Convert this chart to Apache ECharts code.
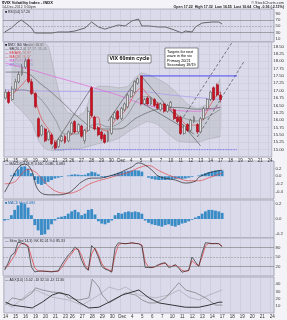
<!DOCTYPE html>
<html><head><meta charset="utf-8">
<script src="https://cdn.jsdelivr.net/npm/echarts@6/dist/echarts.min.js"></script>
<style>html,body{margin:0;padding:0;background:#f4f4f8}#c{width:287px;height:320px}</style>
</head><body><div id="c"></div>
<script>
// ---- categories (days, slots per day) ----
const dayLabels = ['14','15','16','19','20','21','23','26','27','28','29','30','Dec','4','5','6','7','10','11','12','13','14','17','18','19','20','21','24'];
const daySlots  = [3,3,3,3,3,3,2,3,3,3,3,3,3,3,3,3,3,3,3,3,3,3,3,3,3,3,3,1];

// ---- price candles [open, close, low, high] ----
const candles = [
[16.75,16.95,16.7,17.05],[16.95,16.6,16.55,17.0],[16.7,17.05,16.65,17.15],[17.05,17.3,17.0,17.4],
[17.3,17.55,17.25,17.65],[17.55,17.8,17.5,17.9],[17.8,18.0,17.75,18.1],[18.05,17.3,17.25,18.1],
[17.3,16.9,16.85,17.4],[16.9,16.45,16.4,16.95],[16.05,15.45,15.4,16.1],[15.5,15.8,15.45,15.85],
[15.7,15.3,15.25,15.75],[15.35,15.6,15.3,15.65],[15.5,15.2,15.15,15.55],[15.25,15.05,15.0,15.3],
[15.1,15.35,15.05,15.4],[15.3,15.45,15.25,15.5],[15.45,15.25,15.2,15.5],[15.3,15.6,15.25,15.65],
[15.55,15.9,15.5,15.95],[15.95,15.6,15.55,16.0],[15.6,15.85,15.55,15.9],[15.8,15.45,15.4,15.85],
[15.3,15.65,15.2,15.7],[15.65,16.3,15.6,16.45],[17.1,16.15,16.1,17.15],[16.1,15.7,15.65,16.15],
[15.75,15.5,15.45,15.8],[15.6,15.37,15.3,15.65],[15.5,15.25,15.2,15.55],[15.3,15.6,15.25,15.65],
[15.55,16.1,15.5,16.15],[16.05,16.25,16.0,16.3],[16.3,16.05,16.0,16.35],[16.05,16.4,16.0,16.45],
[16.35,16.55,16.3,16.6],[16.45,16.85,16.4,16.9],[16.8,17.0,16.75,17.05],[16.95,17.3,16.9,17.35],
[17.25,17.4,17.2,17.45],[17.5,16.55,16.5,17.52],[16.55,16.7,16.5,16.75],[16.75,16.55,16.5,16.8],
[16.55,16.75,16.5,16.8],[16.7,16.5,16.45,16.75],[16.55,16.4,16.35,16.6],[16.35,16.55,16.3,16.6],
[16.55,16.3,16.25,16.6],[16.3,16.5,16.25,16.55],[16.45,16.6,16.4,16.65],[16.35,16.05,16.0,16.4],
[16.1,15.95,15.9,16.15],[16.1,15.55,15.5,16.15],[15.55,15.8,15.5,15.85],[15.85,15.65,15.6,15.9],
[15.65,16.0,15.6,16.05],[15.95,16.1,15.9,16.15],[15.85,15.6,15.53,15.9],[15.6,16.05,15.55,16.1],
[16.05,16.4,16.0,16.45],[16.4,16.7,16.35,16.75],[16.7,16.95,16.65,17.0],[17.1,16.7,16.65,17.15],
[17.2,16.85,16.8,17.25],[16.85,16.7,16.6,16.95]
];

// ---- overlays on price panel ([slot, value]) ----
const bbUpper = [[2,17.9],[5,18.3],[8,18.7],[11,18.7],[13,18.47],[15,17.5],[17,16.6],[19,16.25],[22,16.15],[24,16.3],[26,16.9],[28,17.15],[31,17.15],[34,17.1],[37,17.15],[39,17.4],[41,17.6],[43,17.55],[46,17.4],[49,17.2],[52,16.9],[55,16.55],[58,16.4],[61,16.55],[63,17.0],[65,17.4]];
const bbLower = [[2,16.65],[5,16.3],[8,15.9],[10,15.3],[12,15.03],[14,14.97],[17,14.97],[19,15.03],[22,15.03],[25,15.1],[28,15.2],[31,15.27],[34,15.37],[37,15.6],[40,15.8],[43,15.95],[46,15.85],[49,15.55],[52,15.3],[55,15.25],[58,15.25],[61,15.35],[65,15.45]];
const maMid = [[0,16.87],[5,17.03],[9,16.87],[12,16.53],[15,16.03],[18,15.53],[22,15.53],[25,15.77],[28,15.87],[31,15.77],[34,15.87],[37,16.2],[40,16.7],[43,16.8],[46,16.6],[49,16.37],[52,16.17],[55,16.03],[58,15.97],[61,16.1],[65,16.37]];
const maSlow = [[0,17.63],[5,17.63],[11,17.2],[17,16.63],[22,16.1],[28,15.7],[34,15.7],[40,16.1],[46,16.37],[52,16.43],[58,16.37],[65,16.43]];
const maPink = [[0,17.93],[8,17.7],[14,17.5],[22,17.25],[28,17.05],[34,16.85],[40,16.6],[43,16.5],[50,16.35],[58,16.3],[65,16.45]];
const maPurple = [[0,17.03],[20,16.97],[40,16.97],[50,16.85],[65,16.7]];
const emaFast = [[0,16.8],[2,16.87],[5,17.2],[7,17.43],[8,17.2],[9,16.7],[11,16.03],[14,15.53],[15,15.3],[17,15.3],[19,15.43],[22,15.63],[24,15.53],[26,16.1],[28,16.1],[29,15.7],[31,15.63],[33,15.97],[36,16.3],[39,16.87],[41,17.1],[43,16.87],[45,16.63],[48,16.5],[51,16.3],[53,16.03],[55,15.83],[58,15.83],[60,16.1],[62,16.53],[64,16.87],[65,16.97]];
const trendUp1 = [[14,15.03],[26,17.1]];
const trendUp2 = [[31,15.97],[40,17.43]];
const trendDn1 = [[41,17.5],[59,15.13]];
const trendDn2 = [[42,16.53],[57,15.53]];
const chanA = [[53,15.97],[69,18.72]];
const chanB = [[58,15.43],[72,17.97]];
const resistance = [[41,17.5],[70,17.5]];
const support = [[15,15.0],[70,15.0]];

// ---- RSI ----
const rsi = [[0,31.8],[2,44.5],[4,63.6],[5,70],[7,54],[8,44.5],[9,28.6],[11,28.6],[14,28.6],[16,31.8],[19,31.8],[21,35],[22,38.2],[24,44.5],[26,63.6],[28,47.7],[30,41],[31,44.5],[34,54],[36,51],[38,66.8],[40,73],[41,51],[43,51],[46,47.7],[48,47.7],[50,41],[53,28.6],[54,35],[56,31.8],[57,47.7],[59,60.4],[62,63.6],[64,63.6],[65,57.2]];

// ---- MACD ----
const macdLine = [[0,-0.42],[2,-0.1],[4,0.22],[6,0.32],[8,0.16],[10,-0.36],[13,-0.49],[16,-0.49],[19,-0.44],[21,-0.31],[23,-0.15],[26,-0.05],[28,-0.05],[31,0.0],[34,0.08],[36,0.16],[38,0.24],[40,0.35],[42,0.29],[44,0.16],[46,0.0],[49,-0.07],[51,-0.1],[54,-0.18],[57,-0.13],[58,-0.03],[60,0.05],[62,0.11],[65,0.16]];
const macdSignal = [[0,-0.2],[3,-0.15],[5,0.05],[7,0.18],[9,0.12],[11,-0.05],[13,-0.25],[16,-0.42],[19,-0.45],[22,-0.38],[25,-0.22],[28,-0.12],[31,-0.05],[34,0.03],[37,0.1],[40,0.22],[43,0.28],[46,0.15],[49,0.03],[52,-0.06],[55,-0.12],[58,-0.12],[61,-0.04],[65,0.08]];
const macdHist = [0,0,0.02,0.08,0.18,0.25,0.26,0.2,0.08,-0.1,-0.2,-0.23,-0.2,-0.15,-0.1,-0.06,-0.04,-0.02,0,0.02,0.04,0.05,0.04,0.03,0.04,0.08,0.12,0.1,0.05,-0.02,-0.04,-0.02,0.03,0.06,0.09,0.11,0.13,0.14,0.15,0.16,0.15,0.12,0,-0.04,-0.07,-0.09,-0.1,-0.1,-0.1,-0.09,-0.08,-0.07,-0.06,-0.07,-0.06,-0.04,-0.02,0,0.02,0.05,0.08,0.11,0.13,0.15,0.16,0.15];

// ---- second histogram ----
const hist2 = [-0.02,-0.01,0.05,0.12,0.18,0.21,0.2,0.15,0.05,-0.08,-0.15,-0.21,-0.2,-0.14,-0.07,-0.02,0.02,0.03,0.04,0.07,0.1,0.12,0.09,0.05,0.07,0.12,0.13,0.06,-0.03,-0.06,-0.07,-0.05,-0.02,0.05,0.08,0.07,0.09,0.1,0.09,0.1,0.09,0.07,-0.02,-0.05,-0.07,-0.08,-0.09,-0.1,-0.08,-0.07,-0.09,-0.1,-0.08,-0.06,-0.05,-0.03,-0.01,0.02,0.04,0.07,0.1,0.12,0.12,0.11,0.1,0.08];

// ---- stochastics ----
const stochK = [9,30,56,63,97,94,90,82,18,3,5,6,5,4,3,5,6,25,41,56,66,82,72,40,17,8,86,75,50,20,12,8,2,80,95,93,92,93,95,93,92,86,17,17,17,20,26,30,32,17,20,26,15,2,5,8,50,35,20,62,95,94,92,93,92,82];
const stochD = [15,22,40,55,80,92,92,86,50,15,6,5,5,5,4,4,5,15,32,48,60,75,75,55,25,10,60,78,58,30,15,10,5,55,88,93,92,93,94,93,92,88,35,18,17,19,24,28,30,22,20,24,18,8,5,7,38,28,22,50,85,93,92,92,92,85];

// ---- bottom panel (ADX / DI) ----
const adx = [[0,15],[2,11],[8,7],[11,15],[14,25],[16,28],[19,25],[22,15],[25,7],[28,8],[31,15],[35,25],[40,32],[43,21],[46,14],[50,11],[54,8],[58,8],[61,11],[64,15],[65,15]];
const diA = [[0,11],[2,21],[5,18],[8,28],[9,35],[11,32],[14,29],[17,28],[19,21],[22,18],[25,21],[26,47],[28,36],[29,25],[31,14],[34,22],[36,28],[39,25],[41,18],[43,14],[45,14],[48,21],[52,42],[54,32],[57,28],[60,21],[63,11],[65,11]];
const diB = [[0,14],[2,8],[7,28],[9,32],[14,22],[19,18],[23,11],[28,25],[31,36],[34,32],[36,36],[40,25],[45,21],[49,25],[52,32],[55,22],[58,18],[61,25],[65,32]];

// ---------- build ----------
const slotLabels = [];
dayLabels.forEach((d,k)=>{ for(let s=0;s<daySlots[k];s++) slotLabels.push(s===0?d:''); });
const cats = slotLabels.map((_,i)=>'s'+i);
const FF = 'Liberation Sans, Arial, sans-serif';
const isDay = (i)=>slotLabels[i]!=='';

const grids = [
  {top:9,height:33},{top:42,height:115},{top:161,height:38},{top:200,height:38},{top:238,height:38},{top:277,height:36}
].map(g=>Object.assign({left:3,right:13,show:true,backgroundColor:'#dadaeb',borderColor:'#8a8a9a',borderWidth:0.6},g));

function xa(gi, showLabel){
  return {type:'category',gridIndex:gi,data:cats,boundaryGap:true,
    axisLine:{show:false},axisTick:{show:false},
    axisLabel:{show:showLabel,interval:isDay,formatter:(v,i)=>slotLabels[i],fontSize:4.5,color:'#333',margin:1.5,fontFamily:FF},
    splitLine:{show:true,interval:isDay,lineStyle:{color:'#c2c2d6',width:0.5}}};
}
function ya(gi,min,max,interval,fmt,split){
  return {type:'value',gridIndex:gi,position:'right',min:min,max:max,interval:interval,
    axisLine:{show:false},axisTick:{show:false},
    axisLabel:{fontSize:4.3,color:'#333',margin:1.5,fontFamily:FF,formatter:fmt,showMaxLabel:false,showMinLabel:false},
    splitLine:{show:!!split,lineStyle:{color:'#c8c8da',width:0.5}}};
}
function ln(xi,data,color,width,extra){
  return Object.assign({type:'line',xAxisIndex:xi,yAxisIndex:xi,data:data,symbol:'none',silent:true,
    lineStyle:{color:color,width:width},z:3},extra||{});
}
const near=(v,t)=>Math.abs(v-t)<1e-6;

const option = {
  animation:false,
  backgroundColor:'#f4f4f8',
  grid:grids,
  xAxis:[xa(0,false),xa(1,true),xa(2,false),xa(3,false),xa(4,false),xa(5,true)],
  yAxis:[
    ya(0,0,105,10,(v)=>([10,30,50,70,90].indexOf(v)>=0?String(v):''),false),
    ya(1,14.75,18.65,0.25,(v)=>v.toFixed(2),true),
    ya(2,-0.6,0.4,0.2,(v)=>v.toFixed(1),false),
    ya(3,-0.25,0.25,0.05,(v)=>(near(Math.abs(v),0.2)||near(v,0))?v.toFixed(1):'',false),
    ya(4,-10,110,10,(v)=>([20,50,80].indexOf(v)>=0?String(v):''),false),
    ya(5,0,50,10,(v)=>String(v),false)
  ],
  series:[
    // RSI
    ln(0,rsi,'#333',0.7,{markLine:{silent:true,symbol:'none',label:{show:false},
      data:[{yAxis:70,lineStyle:{color:'#777',width:0.6,type:'solid'}},{yAxis:30,lineStyle:{color:'#777',width:0.6,type:'solid'}},{yAxis:50,lineStyle:{color:'#888',width:0.5,type:'dashed'}}]}}),
    // Bollinger band fill
    {type:'custom',xAxisIndex:1,yAxisIndex:1,data:bbUpper,clip:true,silent:true,z:1,
      renderItem:function(params,api){
        if(params.dataIndex!==0) return null;
        const pts = bbUpper.map(d=>api.coord(d)).concat(bbLower.slice().reverse().map(d=>api.coord(d)));
        return {type:'polygon',shape:{points:pts,smooth:0.2},style:{fill:'rgba(180,186,190,0.48)'}};
      }},
    ln(1,bbUpper,'#a2a4aa',0.5,{smooth:0.2,z:2}),
    ln(1,bbLower,'#a2a4aa',0.5,{smooth:0.2,z:2}),
    ln(1,maPurple,'#a898ee',0.7,{smooth:0.4}),
    ln(1,maPink,'#e066d8',0.7,{smooth:0.4}),
    ln(1,maSlow,'#555',0.6,{smooth:0.4}),
    ln(1,maMid,'#777',0.6,{smooth:0.4}),
    ln(1,emaFast,'#e05050',0.7,{smooth:0.3}),
    ln(1,trendUp1,'#333',0.5),
    ln(1,trendUp2,'#333',0.5),
    ln(1,trendDn1,'#333',0.5),
    ln(1,trendDn2,'#333',0.5),
    ln(1,chanA,'#333',0.6,{lineStyle:{color:'#333',width:0.6,type:[3,2]}}),
    ln(1,chanB,'#333',0.6,{lineStyle:{color:'#333',width:0.6,type:[3,2]}}),
    ln(1,resistance,'#3c3cf0',0.9),
    ln(1,support,'#4a4af0',0.8,{lineStyle:{color:'#4a4af0',width:0.8,type:'dotted'}}),
    {type:'candlestick',xAxisIndex:1,yAxisIndex:1,data:candles,barWidth:2.4,silent:true,z:5,
      itemStyle:{color:'#e2e2e2',color0:'#cf1020',borderColor:'#555',borderColor0:'#a00818',borderWidth:0.6}},
    // MACD
    {type:'bar',xAxisIndex:2,yAxisIndex:2,data:macdHist,barWidth:'85%',silent:true,itemStyle:{color:'#3a8cc6'},z:2},
    ln(2,macdSignal,'#e04848',0.7,{smooth:0.4}),
    ln(2,macdLine,'#222',0.7,{smooth:0.4}),
    // second histogram
    {type:'bar',xAxisIndex:3,yAxisIndex:3,data:hist2,barWidth:'85%',silent:true,itemStyle:{color:'#3a8cc6'},z:2},
    // stochastics
    ln(4,stochD,'#e04848',0.8,{markLine:{silent:true,symbol:'none',label:{show:false},
      data:[{yAxis:80,lineStyle:{color:'#777',width:0.6,type:'solid'}},{yAxis:20,lineStyle:{color:'#777',width:0.6,type:'solid'}},{yAxis:50,lineStyle:{color:'#888',width:0.5,type:'dashed'}}]}}),
    ln(4,stochK,'#222',0.7),
    // bottom
    ln(5,diB,'#a8a8b0',0.7),
    ln(5,diA,'#777',0.7),
    ln(5,adx,'#222',0.9)
  ],
  graphic:[
    {type:'text',x:2,y:1,style:{text:'$VIX Volatility Index - INDX',font:'bold 4px '+FF,fill:'#111'}},
    {type:'text',x:2,y:5,style:{text:'14-Dec-2012 3:00pm',font:'3.6px '+FF,fill:'#333'}},
    {type:'text',x:284,y:1,style:{text:'© StockCharts.com',font:'3.8px '+FF,fill:'#333',align:'right'}},
    {type:'text',x:284,y:5,style:{text:'Open 17.22  High 17.32  Low 16.55  Last 16.64  Chg -0.36 (-2.11%)',font:'bold 3.6px '+FF,fill:'#222',align:'right'}},
    {type:'text',x:5,y:10,style:{text:'■ RSI(14) 57.20',font:'3.5px '+FF,fill:'#222'}},
    {type:'text',x:5,y:43.5,style:{text:'■ $VIX (60 Minute) 16.65',font:'3.5px '+FF,fill:'#111'}},
    {type:'text',x:5,y:47.5,style:{text:'— BB(20,2.0) 17.37, 15.45',font:'3.5px '+FF,fill:'#333'}},
    {type:'text',x:5,y:51.5,style:{text:'— EMA(8) 16.97',font:'3.5px '+FF,fill:'#d03030'}},
    {type:'text',x:5,y:55.5,style:{text:'— MA(20) 16.37',font:'3.5px '+FF,fill:'#d03030'}},
    {type:'text',x:5,y:59.5,style:{text:'— MA(100) 16.45',font:'3.5px '+FF,fill:'#c040c0'}},
    {type:'text',x:5,y:63.5,style:{text:'— MA(200) 16.70',font:'3.5px '+FF,fill:'#7a6ae0'}},
    {type:'rect',shape:{x:108,y:55,width:43,height:8},style:{fill:'#fff',stroke:'#222',lineWidth:0.5},z:100},
    {type:'text',x:129.5,y:56.3,style:{text:'VIX 60min cycle',font:'bold 5.3px '+FF,fill:'#000',align:'center'},z:101},
    {type:'rect',shape:{x:165,y:48,width:33,height:20},style:{fill:'#fff',stroke:'#222',lineWidth:0.5},z:100},
    {type:'text',x:167,y:49.5,style:{text:'Targets for next\nwave in the vix\nPrimary 20/21\nSecondary 18/19',font:'3.8px '+FF,lineHeight:4.4,fill:'#000'},z:101},
    {type:'text',x:5,y:162,style:{text:'— MACD(12,26,9) 0.160, 0.080, 0.080',font:'3.5px '+FF,fill:'#222'}},
    {type:'text',x:5,y:201,style:{text:'■ MACD Hist 0.080',font:'3.5px '+FF,fill:'#1d6aa8'}},
    {type:'text',x:5,y:239.5,style:{text:'— Slow Sto(14,3) %K 82.01 %D 85.33',font:'3.5px '+FF,fill:'#222'}},
    {type:'text',x:5,y:278.5,style:{text:'— ADX(14) 15.02 +DI 32.10 -DI 11.30',font:'3.5px '+FF,fill:'#222'}}
  ]
};
const chart = echarts.init(document.getElementById('c'));
chart.setOption(option);
</script></body></html>
